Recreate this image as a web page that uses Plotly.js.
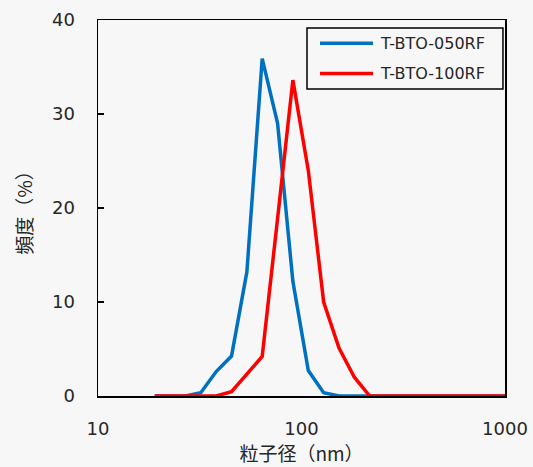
<!DOCTYPE html>
<html>
<head>
<meta charset="utf-8">
<script src="https://cdn.plot.ly/plotly-3.0.1.min.js"></script>
<style>html,body{margin:0;padding:0;background:#f7f7f7;}#chart{width:533px;height:467px;}</style>
</head>
<body>
<div id="chart"></div>
<script>
// particle size bins (nm)
const sizes = [19.0, 22.6, 26.9, 32.0, 38.1, 45.3, 53.9, 64.1, 76.3, 90.7, 108, 128.5, 152.9, 181.9, 216.4, 257.5, 306.4, 364.6, 433.8, 516.3, 614.3, 731, 869.9, 1000];
// frequency (%)
const bto050 = [0, 0, 0, 0.35, 2.6, 4.25, 13.2, 35.9, 29.0, 12.2, 2.7, 0.35, 0, 0, 0, 0, 0, 0, 0, 0, 0, 0, 0, 0];
const bto100 = [0, 0, 0, 0, 0, 0.46, 2.3, 4.2, 18.9, 33.6, 24.0, 10.0, 5.1, 2.0, 0, 0, 0, 0, 0, 0, 0, 0, 0, 0];
const seriesNames = ['T-BTO-050RF', 'T-BTO-100RF'];
const seriesColors = ['#0070C0', '#FF0000'];
const xTitle = '粒子径（nm）';
const yTitle = '頻度（%）';

const textColor = '#262626';
const traces = [
  {x: sizes, y: bto050, name: seriesNames[0], type: 'scatter', mode: 'lines',
   line: {color: seriesColors[0], width: 3.5}, cliponaxis: false},
  {x: sizes, y: bto100, name: seriesNames[1], type: 'scatter', mode: 'lines',
   line: {color: seriesColors[1], width: 3.5}, cliponaxis: false}
];

// legend box (paper coordinates)
const legBox = {x0: 0.5135, x1: 0.995, y0: 0.8165, y1: 0.9787};
const legRows = [0.938, 0.858];
const legLine = {x0: 0.5455, x1: 0.6757, tx: 0.688};
const shapes = [{type: 'rect', xref: 'paper', yref: 'paper', x0: legBox.x0, x1: legBox.x1, y0: legBox.y0, y1: legBox.y1,
  line: {color: '#000', width: 1.5}, fillcolor: '#f7f7f7'}];
const annotations = [];
seriesNames.forEach((n, i) => {
  shapes.push({type: 'line', xref: 'paper', yref: 'paper', x0: legLine.x0, x1: legLine.x1, y0: legRows[i], y1: legRows[i],
    line: {color: seriesColors[i], width: 3.5}});
  annotations.push({xref: 'paper', yref: 'paper', x: legLine.tx, y: legRows[i], xanchor: 'left', yanchor: 'middle',
    text: n, showarrow: false, font: {size: 16, color: textColor}});
});

const layout = {
  width: 533, height: 467,
  margin: {l: 98, r: 28, t: 20, b: 71},
  paper_bgcolor: '#f7f7f7', plot_bgcolor: '#f7f7f7',
  font: {family: 'DejaVu Sans, Verdana, sans-serif', color: textColor},
  xaxis: {
    type: 'log', range: [1, 3], dtick: 1,
    showgrid: false, zeroline: false,
    showline: true, linecolor: '#000', linewidth: 1.5, mirror: true,
    ticks: '', ticklabelstandoff: 16,
    tickfont: {size: 18, color: textColor},
    title: {text: xTitle, font: {family: 'Noto Sans CJK JP, sans-serif', size: 19, color: textColor}, standoff: 6}
  },
  yaxis: {
    range: [0, 40], dtick: 10,
    showgrid: false, zeroline: false,
    showline: true, linecolor: '#000', linewidth: 1.5, mirror: true,
    ticks: 'inside', ticklen: 6, tickwidth: 1.5, tickcolor: '#000',
    ticklabelstandoff: 18,
    tickfont: {size: 18, color: textColor},
    title: {text: yTitle, font: {family: 'Noto Sans CJK JP, sans-serif', size: 19, color: textColor}, standoff: 14}
  },
  shapes: shapes,
  annotations: annotations,
  showlegend: false
};
Plotly.newPlot('chart', traces, layout, {displayModeBar: false, staticPlot: true});
</script>
</body>
</html>
